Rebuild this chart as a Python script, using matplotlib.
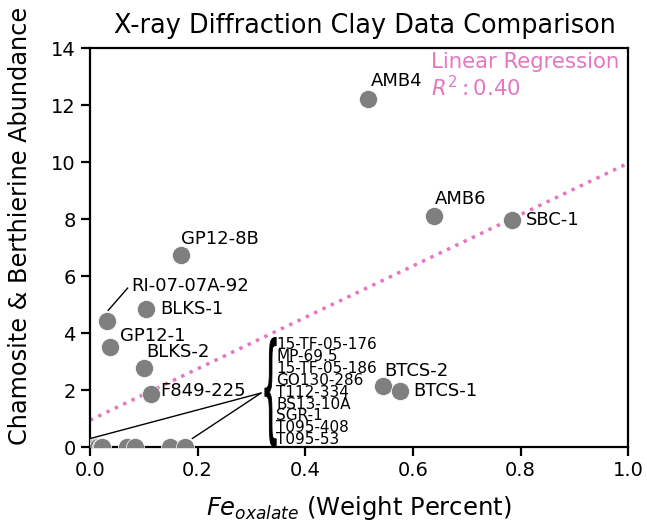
import numpy as np
import matplotlib.pyplot as plt
from matplotlib.textpath import TextPath
from matplotlib.patches import PathPatch
from matplotlib.path import Path
from matplotlib.font_manager import FontProperties

# sample names, Fe oxalate (wt %) and chamosite + berthierine abundance
names = ['AMB4', 'AMB6', 'SBC-1', 'GP12-8B', 'BLKS-1', 'RI-07-07A-92', 'GP12-1',
         'BLKS-2', 'F849-225', 'BTCS-2', 'BTCS-1']
fe_ox = [0.517, 0.639, 0.784, 0.169, 0.104, 0.032, 0.037, 0.100, 0.113, 0.545, 0.576]
clay = [12.21, 8.10, 7.96, 6.74, 4.84, 4.42, 3.51, 2.77, 1.86, 2.14, 1.96]

zero_names = ['15-TF-05-176', 'MP-69.5', '15-TF-05-186', 'GO130-286', 'T112-334',
              'BS13-10A', 'SGR-1', 'T095-408', 'T095-53']
zero_fe = [0.008, 0.012, 0.015, 0.020, 0.022, 0.068, 0.083, 0.149, 0.176]
zero_clay = [0, 0, 0, 0, 0, 0, 0, 0, 0]

# label spots (left edge, vertical centre)
lab_x = [0.522, 0.641, 0.810, 0.169, 0.130, 0.076, 0.056, 0.104, 0.130, 0.546, 0.600]
lab_y = [12.84, 8.70, 7.96, 7.30, 4.84, 5.65, 3.89, 3.33, 1.96, 2.67, 1.96]

r2_text = '0.40'

x_all = np.array(fe_ox + zero_fe)
y_all = np.array(clay + zero_clay)
slope, icpt = np.polyfit(x_all, y_all, 1)

fig, ax = plt.subplots(figsize=(6.47, 5.23), dpi=100)
fig.subplots_adjust(left=0.139, right=0.971, top=0.908, bottom=0.145)

xx = np.array([0.0, 1.0])
ax.plot(xx, slope * xx + icpt, ls=':', lw=2.5, color='tab:pink')
ax.scatter(x_all, y_all, s=170, color='tab:gray', edgecolor='white', lw=0.5, zorder=3)

for n, tx, ty in zip(names, lab_x, lab_y):
    ax.text(tx, ty, n, fontsize=13, va='center', ha='left')
ax.plot([0.034, 0.070], [4.80, 5.58], color='k', lw=1)

ax.text(0.346, 1.93, '\n'.join(zero_names), fontsize=11, va='center', ha='left',
        linespacing=0.74)
for xe in [0.0, 0.19]:
    ax.annotate('', xy=(xe, 0.3), xytext=(0.318, 1.9),
                arrowprops=dict(arrowstyle='-', color='k', lw=1, shrinkA=0, shrinkB=0))

# curly brace squeezed to fit the list
tp = TextPath((0, 0), '{', size=1, prop=FontProperties(family='DejaVu Sans'))
ext = tp.get_extents()
verts = tp.vertices.copy()
verts[:, 0] = 0.325 + (verts[:, 0] - ext.x0) / ext.width * 0.021
verts[:, 1] = 0.0 + (verts[:, 1] - ext.y0) / ext.height * 3.85
ax.add_patch(PathPatch(Path(verts, tp.codes), color='k', lw=0.6))

ax.text(0.634, 13.85, 'Linear Regression\n$R^2: $' + r2_text, color='tab:pink',
        fontsize=15.3, va='top', ha='left', linespacing=1.1)

ax.set_xlim(0, 1)
ax.set_ylim(0, 14)
for s in ax.spines.values():
    s.set_linewidth(1.6)
ax.tick_params(labelsize=14, length=6.3, width=1.6, pad=4)
ax.set_xlabel('$Fe_{oxalate}$ (Weight Percent)', fontsize=17.5, labelpad=10)
ax.set_ylabel('Chamosite & Berthierine Abundance', fontsize=17.3)
ax.yaxis.set_label_coords(-0.108, 0.555)
ax.set_title('X-ray Diffraction Clay Data Comparison', fontsize=18.4, pad=11, x=0.511)

fig.savefig('out.png')
